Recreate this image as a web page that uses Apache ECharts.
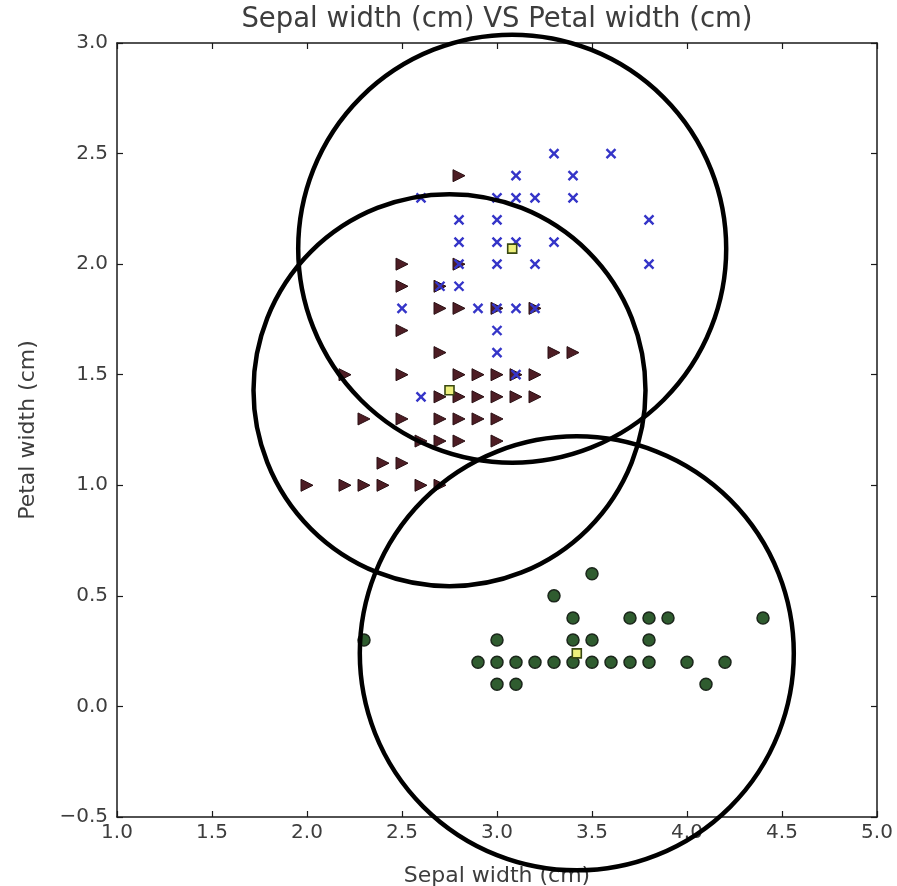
<!DOCTYPE html>
<html>
<head>
<meta charset="utf-8">
<title>Sepal width (cm) VS Petal width (cm)</title>
<script src="https://cdn.jsdelivr.net/npm/echarts@6/dist/echarts.min.js"></script>
<style>
  html, body { margin: 0; padding: 0; background: #ffffff; }
  #chart { width: 897px; height: 886px; }
</style>
</head>
<body>
<div id="chart"></div>
<script>
// Iris measurements grouped by k-means cluster: [sepal width, petal width] in cm
const setosaCluster = [
  [3.5, 0.6], [3.3, 0.5],
  [3.4, 0.4], [3.7, 0.4], [3.8, 0.4], [3.9, 0.4], [4.4, 0.4],
  [2.3, 0.3], [3.0, 0.3], [3.4, 0.3], [3.5, 0.3], [3.8, 0.3],
  [2.9, 0.2], [3.0, 0.2], [3.1, 0.2], [3.2, 0.2], [3.3, 0.2], [3.4, 0.2],
  [3.5, 0.2], [3.6, 0.2], [3.7, 0.2], [3.8, 0.2], [4.0, 0.2], [4.2, 0.2],
  [3.0, 0.1], [3.1, 0.1], [4.1, 0.1]
];

const versicolorCluster = [
  [2.8, 2.4],
  [2.5, 2.0], [2.8, 2.0],
  [2.5, 1.9], [2.7, 1.9],
  [2.7, 1.8], [2.8, 1.8], [3.0, 1.8], [3.2, 1.8],
  [2.5, 1.7],
  [2.7, 1.6], [3.3, 1.6], [3.4, 1.6],
  [2.2, 1.5], [2.5, 1.5], [2.8, 1.5], [2.9, 1.5], [3.0, 1.5], [3.1, 1.5], [3.2, 1.5],
  [2.7, 1.4], [2.8, 1.4], [2.9, 1.4], [3.0, 1.4], [3.1, 1.4], [3.2, 1.4],
  [2.3, 1.3], [2.5, 1.3], [2.7, 1.3], [2.8, 1.3], [2.9, 1.3], [3.0, 1.3],
  [2.6, 1.2], [2.7, 1.2], [2.8, 1.2], [3.0, 1.2],
  [2.4, 1.1], [2.5, 1.1],
  [2.0, 1.0], [2.2, 1.0], [2.3, 1.0], [2.4, 1.0], [2.6, 1.0], [2.7, 1.0]
];

const virginicaCluster = [
  [3.3, 2.5], [3.6, 2.5],
  [3.1, 2.4], [3.4, 2.4],
  [2.6, 2.3], [3.0, 2.3], [3.1, 2.3], [3.2, 2.3], [3.4, 2.3],
  [2.8, 2.2], [3.0, 2.2], [3.8, 2.2],
  [2.8, 2.1], [3.0, 2.1], [3.1, 2.1], [3.3, 2.1],
  [2.8, 2.0], [3.0, 2.0], [3.2, 2.0], [3.8, 2.0],
  [2.7, 1.9], [2.8, 1.9],
  [2.5, 1.8], [2.9, 1.8], [3.0, 1.8], [3.1, 1.8], [3.2, 1.8],
  [3.0, 1.7],
  [3.0, 1.6],
  [3.1, 1.5],
  [2.6, 1.4]
];

// cluster centres in the same two coordinates
const clusterCentres = [[3.08, 2.07], [2.75, 1.43], [3.42, 0.24]];

// axis tick values
const xTicks = [1.0, 1.5, 2.0, 2.5, 3.0, 3.5, 4.0, 4.5, 5.0];
const yTicks = [-0.5, 0.0, 0.5, 1.0, 1.5, 2.0, 2.5, 3.0];

// ---- styling ----
const FONT = 'DejaVu Sans';
const TEXT = '#3d3d3d';
const ringDiameters = [428, 392, 434];   // outline circle around each centre, px

const fmt = v => v.toFixed(1).replace('-', '\u2212');
const step = xTicks[1] - xTicks[0];

function frameAxis(base, extra) {
  return Object.assign({
    type: 'value',
    interval: step,
    splitLine: { show: false },
    axisLine: { show: true, onZero: false, lineStyle: { color: '#1a1a1a', width: 1.5 } },
    axisTick: { show: true, inside: true, length: 6, lineStyle: { color: '#1a1a1a', width: 1.2 } },
    axisLabel: { show: false }
  }, base, extra);
}

const xBase = { min: xTicks[0], max: xTicks[xTicks.length - 1] };
const yBase = { min: yTicks[0], max: yTicks[yTicks.length - 1] };

const chart = echarts.init(document.getElementById('chart'), null, { renderer: 'canvas' });

chart.setOption({
  animation: false,
  backgroundColor: '#ffffff',
  grid: { left: 117, right: 20, top: 43, bottom: 69, containLabel: false, outerBoundsMode: 'none' },
  graphic: [{
    type: 'text',
    x: 497,
    y: 6,
    style: {
      text: 'Sepal width (cm) VS Petal width (cm)',
      font: '27.5px "' + FONT + '"',
      fill: TEXT,
      align: 'center',
      textAlign: 'center'
    }
  }],
  xAxis: [
    frameAxis(xBase, {
      position: 'bottom',
      name: 'Sepal width (cm)',
      nameLocation: 'middle',
      nameGap: 48,
      nameTextStyle: { fontFamily: FONT, fontSize: 22, color: TEXT },
      axisLabel: { show: true, formatter: fmt, fontFamily: FONT, fontSize: 20, color: TEXT, margin: 6 }
    }),
    frameAxis(xBase, { position: 'top' })
  ],
  yAxis: [
    frameAxis(yBase, {
      position: 'left',
      name: 'Petal width (cm)',
      nameLocation: 'middle',
      nameGap: 78,
      nameRotate: 90,
      nameTextStyle: { fontFamily: FONT, fontSize: 22, color: TEXT },
      axisLabel: { show: true, formatter: fmt, fontFamily: FONT, fontSize: 20, color: TEXT, margin: 9 }
    }),
    frameAxis(yBase, { position: 'right' })
  ],
  series: [
    {
      name: 'cluster 0',
      type: 'scatter',
      data: setosaCluster,
      symbol: 'circle',
      symbolSize: 12,
      itemStyle: { color: '#2f5c2f', borderColor: '#1b261b', borderWidth: 1.5, opacity: 1 },
      clip: false,
      silent: true
    },
    {
      name: 'cluster 1',
      type: 'scatter',
      data: versicolorCluster,
      symbol: 'path://M0,0L12,6L0,12Z',
      symbolSize: [12, 12],
      itemStyle: { color: '#4d1d24', borderColor: '#2a1014', borderWidth: 1, opacity: 1 },
      clip: false,
      silent: true
    },
    {
      name: 'cluster 2',
      type: 'scatter',
      data: virginicaCluster,
      symbol: 'path://M0,0L10,10M10,0L0,10',
      symbolSize: 9,
      itemStyle: { color: 'none', borderColor: '#3535c8', borderWidth: 2.4, opacity: 1 },
      clip: false,
      silent: true
    },
    {
      name: 'centres',
      type: 'scatter',
      data: clusterCentres,
      symbol: 'rect',
      symbolSize: 9,
      itemStyle: { color: '#eef07c', borderColor: '#394812', borderWidth: 1.6, opacity: 1 },
      clip: false,
      silent: true,
      z: 3
    },
    {
      name: 'cluster outlines',
      type: 'scatter',
      data: clusterCentres,
      symbol: 'circle',
      symbolSize: (val, params) => ringDiameters[params.dataIndex],
      itemStyle: { color: 'none', borderColor: '#000000', borderWidth: 4.5, opacity: 1 },
      clip: false,
      silent: true,
      z: 4
    }
  ]
});
</script>
</body>
</html>
